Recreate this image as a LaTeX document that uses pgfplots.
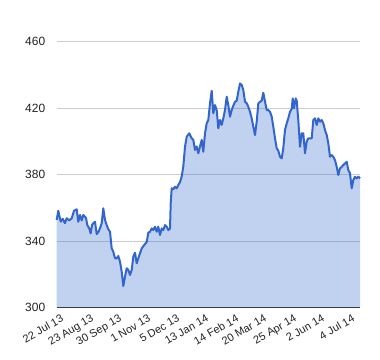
\documentclass[border=0pt]{standalone}
\usepackage{pgfplots}
\pgfplotsset{compat=1.18}
\usepackage{pgfplotstable}
\usepackage{fontspec}
\setmainfont{Liberation Sans}
\definecolor{gline}{HTML}{3366CC}
\definecolor{gridc}{HTML}{CCCCCC}
\definecolor{txt}{HTML}{222222}
\pgfplotstableread{
x y
56.7 352.8
58.3 358.3
60.7 351.7
62.7 353.5
65 350.8
66.7 353.8
69.3 352.5
71.7 353.8
74 358.3
76.7 359.2
78.3 351.7
80 355.8
81.7 352.5
83.3 355.8
86 354
87.3 349.7
89.3 347.7
90.7 344.7
92 349.7
93.3 350.8
95 351.7
96.7 344.3
98.3 345.5
100 347.7
101.7 350.8
103.3 359.8
105 352.8
106.7 349.7
108.3 347.2
110 345.7
111.7 335.7
113.3 333.7
115 329.7
116.7 329.7
118.3 331.1
120 327.7
121.7 321.7
123.3 313
125 318.6
126.7 323.7
128.3 322.7
130 319.7
131.7 322.7
133.3 330.7
135 333.1
136.7 326.7
138.3 329.7
140 332.7
141.7 335.7
143.3 337
145 338.3
146.7 339.5
148.3 345.1
150 345.7
151.7 347.7
153.3 346.7
155 348.7
156.7 345.7
158.3 348.7
160 343.7
161.7 347.7
163.3 346.7
165 349.7
166.7 348.7
168.3 346.7
170 347.7
170.7 362.8
171.7 371.8
173.3 371.3
175 372.8
176.7 371.8
178.3 373.8
180 375.5
181.7 379
183.3 385
185 396.8
186.7 402.9
189.3 404.9
191.7 401.9
193.3 401
195 394.9
196.7 397
198.3 392.9
200 397
201.7 400.9
203.3 393.8
205 404.9
206.7 410.9
208.3 412.9
210 422.9
211.7 430.5
213.3 416.9
215 421.9
216.7 418.9
218.3 407.9
220 412.9
221.7 410
223.3 413.9
225 418.9
226.7 426.9
228.3 421.9
230 414.9
231.7 418.9
233.3 421.5
235 423.9
236.7 424.5
238.3 429.9
240 434.9
241.7 434
243.3 431
245 423.9
246.7 423
248.3 420.9
250 417.9
251.7 413.9
253.3 408.9
255 403.9
256.7 411.9
258.3 422.9
260 423.9
261.7 424.5
263.3 429.3
265 424
266.7 418.9
268.3 418.9
270 417.9
271.7 414.9
273.3 408.9
275 401.9
276.7 395.9
278.3 394.5
280 390.8
281.7 389.8
283.3 396
285 406.9
286.7 410.9
288.3 413.9
290 417.9
291.7 419.5
292.7 425.9
294 419.9
295.7 425.9
296.7 424.5
298.3 412.9
300 396.8
301.7 404.9
303.3 404.9
305 392.9
306.7 399.9
308.3 401.9
310 401.9
311.7 401.9
313.3 412.9
315 413.9
316.7 409.9
318.3 413.9
320 411.9
321.7 412.9
323.3 410.9
325 406.9
326.7 403.9
328.3 398.9
330 390.8
331.7 391.8
333.3 390.8
335 388.8
336.7 384.8
338.3 379.8
340 383.8
341.7 384.8
343.3 385.8
345 386.8
346.7 387.8
348.3 382.8
350 380.8
351.7 371.8
353.3 376.8
355 378.8
356.7 377.8
358.3 378.8
360 377.8
}\series
\begin{document}
\begin{tikzpicture}
\useasboundingbox (0,0) rectangle (380bp,360bp);
\begin{axis}[
  at={(56.7bp,52.3bp)}, anchor=south west,
  scale only axis,
  width=303.3bp, height=282.6bp,
  xmin=56.7, xmax=360,
  ymin=300, ymax=470,
  ytick={300,340,380,420,460},
  xtick={56.7,87,115,144,173,202,232,260,290,318,348},
  xticklabels={22 Jul 13,23 Aug 13,30 Sep 13,1 Nov 13,5 Dec 13,13 Jan 14,14 Feb 14,20 Mar 14,25 Apr 14,2 Jun 14,4 Jul 14},
  /pgf/number format/assume math mode=true,
  /pgf/number format/1000 sep={},
  axis x line*=bottom,
  axis y line*=left,
  x axis line style={draw=black!80, line width=1bp, -},
  y axis line style={draw=none},
  ymajorgrids,
  grid style={gridc, line width=1bp},
  major tick length=0pt,
  tick style={draw=none},
  yticklabel style={font=\fontsize{12}{14}\selectfont, text=txt, anchor=east, xshift=-8bp},
  xticklabel style={font=\fontsize{11}{13}\selectfont, text=txt, rotate=30, anchor=north east, inner sep=0pt, yshift=-7bp},
  clip=false,
]
\addplot[draw=none, fill=gline, fill opacity=0.3] table[x=x,y=y]{\series} \closedcycle;
\addplot[gline, line width=2bp, line join=round] table[x=x,y=y]{\series};
\end{axis}
\end{tikzpicture}
\end{document}
